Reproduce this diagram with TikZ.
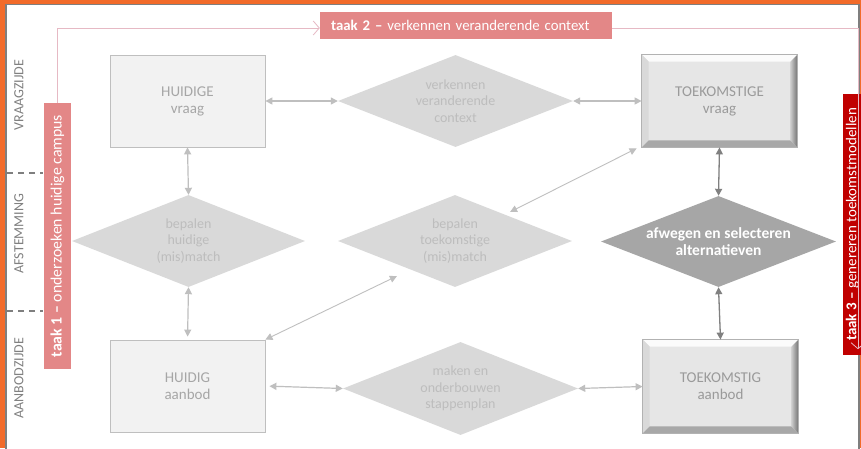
\documentclass[tikz,border=0pt]{standalone}
\usepackage{fontspec}
\setmainfont{Carlito}
\usetikzlibrary{shapes.geometric,arrows.meta,calc}
\definecolor{orng}{HTML}{F26B2A}
\definecolor{frameg}{HTML}{7F7F7F}
\definecolor{pinkbox}{HTML}{E38787}
\definecolor{pinkln}{HTML}{E6B9C4}
\definecolor{redbox}{HTML}{C00000}
\definecolor{boxfill}{HTML}{F2F2F2}
\definecolor{boxline}{HTML}{BFBFBF}
\definecolor{boxtext}{HTML}{A6A6A6}
\definecolor{bevtext}{HTML}{9A9A9A}
\definecolor{dmfill}{HTML}{D9D9D9}
\definecolor{dmtext}{HTML}{BDBDBD}
\definecolor{darkdm}{HTML}{A6A6A6}
\definecolor{arrlight}{HTML}{BFBFBF}
\definecolor{arrdark}{HTML}{808080}
\definecolor{sidetext}{HTML}{808080}
\definecolor{bevface}{HTML}{E6E6E6}
\begin{document}
\begin{tikzpicture}[x=1pt,y=-1pt,
  plainbox/.style={rectangle,draw=boxline,line width=0.8pt,fill=boxfill,
    minimum width=155pt,minimum height=92pt,inner sep=0pt,align=center,
    text=boxtext,font=\fontsize{15}{17}\selectfont},
  bevbox/.style={plainbox,fill=bevface,draw=none,text=bevtext},
  dmshape/.style={diamond,aspect=2.55,fill=dmfill,inner sep=0pt,
    minimum width=235pt,minimum height=92pt,align=center,text=dmtext,
    font=\fontsize{14}{16.7}\selectfont},
  darkshape/.style={dmshape,fill=darkdm,text=white,font=\bfseries\fontsize{15.5}{17}\selectfont},
  arr/.style={draw=arrlight,line width=1.2pt,
    arrows={Triangle[length=7pt,width=7pt]-Triangle[length=7pt,width=7pt]}},
  arrd/.style={draw=arrdark,fill=arrdark,line width=1.3pt,
    arrows={Triangle[length=7pt,width=7pt]-Triangle[length=7pt,width=7pt]}},
  pinkpath/.style={draw=pinkln,line width=0.8pt,
    arrows={-Straight Barb[length=6pt,width=14pt]}},
  sidelabel/.style={rotate=90,text=sidetext,font=\fontsize{14}{14}\selectfont,inner sep=0pt},
  sepline/.style={draw=frameg,line width=1.1pt,dash pattern=on 6pt off 5pt},
  taakbox/.style={fill=pinkbox,text=white,inner sep=0pt,font=\fontsize{14.8}{15}\selectfont},
  bevtop/.style={fill=white!85!bevface},
  bevleft/.style={fill=black!15},
  bevbot/.style={fill=black!34},
]
\useasboundingbox (0,0) rectangle (861,448);
\clip (0,0) rectangle (861,448);
\fill[orng] (0,0) rectangle (861,448);
\draw[frameg,line width=1.3pt,fill=white] (6,4.5) rectangle (859,452);

% side labels and separators
\node[sidelabel] (lv) at (19,95) {VRAAGZIJDE};
\node[sidelabel] (lf) at (19,233.5) {AFSTEMMING};
\node[sidelabel] (la) at (19,378) {AANBODZIJDE};
\coordinate (s1a) at (7,173); \coordinate (s1b) at (43,173);
\coordinate (s2a) at (7,311); \coordinate (s2b) at (43,311);
\draw[sepline] (s1a) -- (s1b);
\draw[sepline] (s2a) -- (s2b);

% task boxes
\node[taakbox,rotate=90,minimum width=266pt,minimum height=27pt,
  font=\fontsize{15.8}{16}\selectfont] (t1) at (57.5,236)
  {\textbf{taak 1 –} onderzoeken huidige campus};
\node[taakbox,text width=270pt,align=left,inner xsep=11pt,minimum height=27pt] (t2) at (466,25.5)
  {\textbf{taak 2 –} verkennen veranderende context};
\node[taakbox,fill=redbox,rotate=90,minimum width=261pt,minimum height=36pt] (t3) at (861,224.5) {};
\node[rotate=90,text=white,inner sep=0pt,font=\fontsize{15}{16}\selectfont] (t3txt) at (852.5,224.5)
  {\textbf{taak 3 –} genereren toekomstmodellen};
\coordinate (pr) at (858,28);
\draw[pinkpath] (t1.east) |- ($(t2.west)+(0,2.5)$);
\draw[pinkpath,shorten >=6pt] ($(t2.east)+(0,2.5)$) -| (t3.west -| pr);

% boxes
\node[plainbox] (hv) at (187.5,101) {HUIDIGE\\vraag};
\node[plainbox] (ha) at (187.5,386) {HUIDIG\\aanbod};
\node[bevbox] (tv) at (719.5,101) {TOEKOMSTIGE\\vraag};
\node[bevbox,minimum height=93pt] (ta) at (720.5,386.5) {TOEKOMSTIG\\aanbod};
\foreach \n in {tv,ta} {
  \fill[bevtop] (\n.north west) -- (\n.north east) -- ([shift={(-7,7)}]\n.north east) -- ([shift={(7,7)}]\n.north west) -- cycle;
  \fill[bevleft] (\n.north west) -- ([shift={(7,7)}]\n.north west) -- ([shift={(7,-7)}]\n.south west) -- (\n.south west) -- cycle;
  \fill[bevbot] (\n.south west) -- ([shift={(7,-7)}]\n.south west) -- ([shift={(-7,-7)}]\n.south east) -- (\n.south east) -- cycle;
  \shade[left color=black!20,right color=black!55] (\n.north east) -- ([shift={(-7,7)}]\n.north east) -- ([shift={(-7,-7)}]\n.south east) -- (\n.south east) -- cycle;
  \draw[black!30,line width=0.6pt] (\n.north west) rectangle (\n.south east);
}

% diamonds
\node[dmshape] (dv) at (455.5,101) {verkennen\\veranderende\\context};
\node[dmshape,minimum width=233pt] (dh) at (188.5,241) {bepalen\\huidige\\(mis)match};
\node[dmshape,minimum width=234pt] (dt) at (455,241) {bepalen\\toekomstige\\(mis)match};
\node[darkshape,minimum width=235pt,minimum height=91pt] (da) at (718.5,241.5) {afwegen en selecteren\\alternatieven};
\node[dmshape,minimum height=93pt] (dm) at (460.5,388.5) {maken en\\onderbouwen\\stappenplan};

% connectors
\draw[arr] (hv.east) -- (dv.west);
\draw[arr] (dv.east) -- (tv.west);
\draw[arr] (hv.south) -- (dh.north);
\draw[arr,shorten >=3pt] (dh.south) -- (ha.north);
\draw[arr,shorten <=4pt] (ha.east) -- (dm.west);
\draw[arr] (dm.east) -- (ta.west);
\coordinate (dtl) at ($(dt.south west)+(0.5,12)$);
\coordinate (dtu) at ($(dt.north east)+(-3.5,-6)$);
\coordinate (tvl) at ($(tv.south west)+(-5,1)$);
\draw[arr,line width=0.9pt] (ha.north east) -- (dtl);
\draw[arr,line width=0.9pt] (dtu) -- (tvl);
\draw[arrd] (tv.south) -- (da.north);
\draw[arrd] (da.south) -- (ta.north);
\end{tikzpicture}
\end{document}
